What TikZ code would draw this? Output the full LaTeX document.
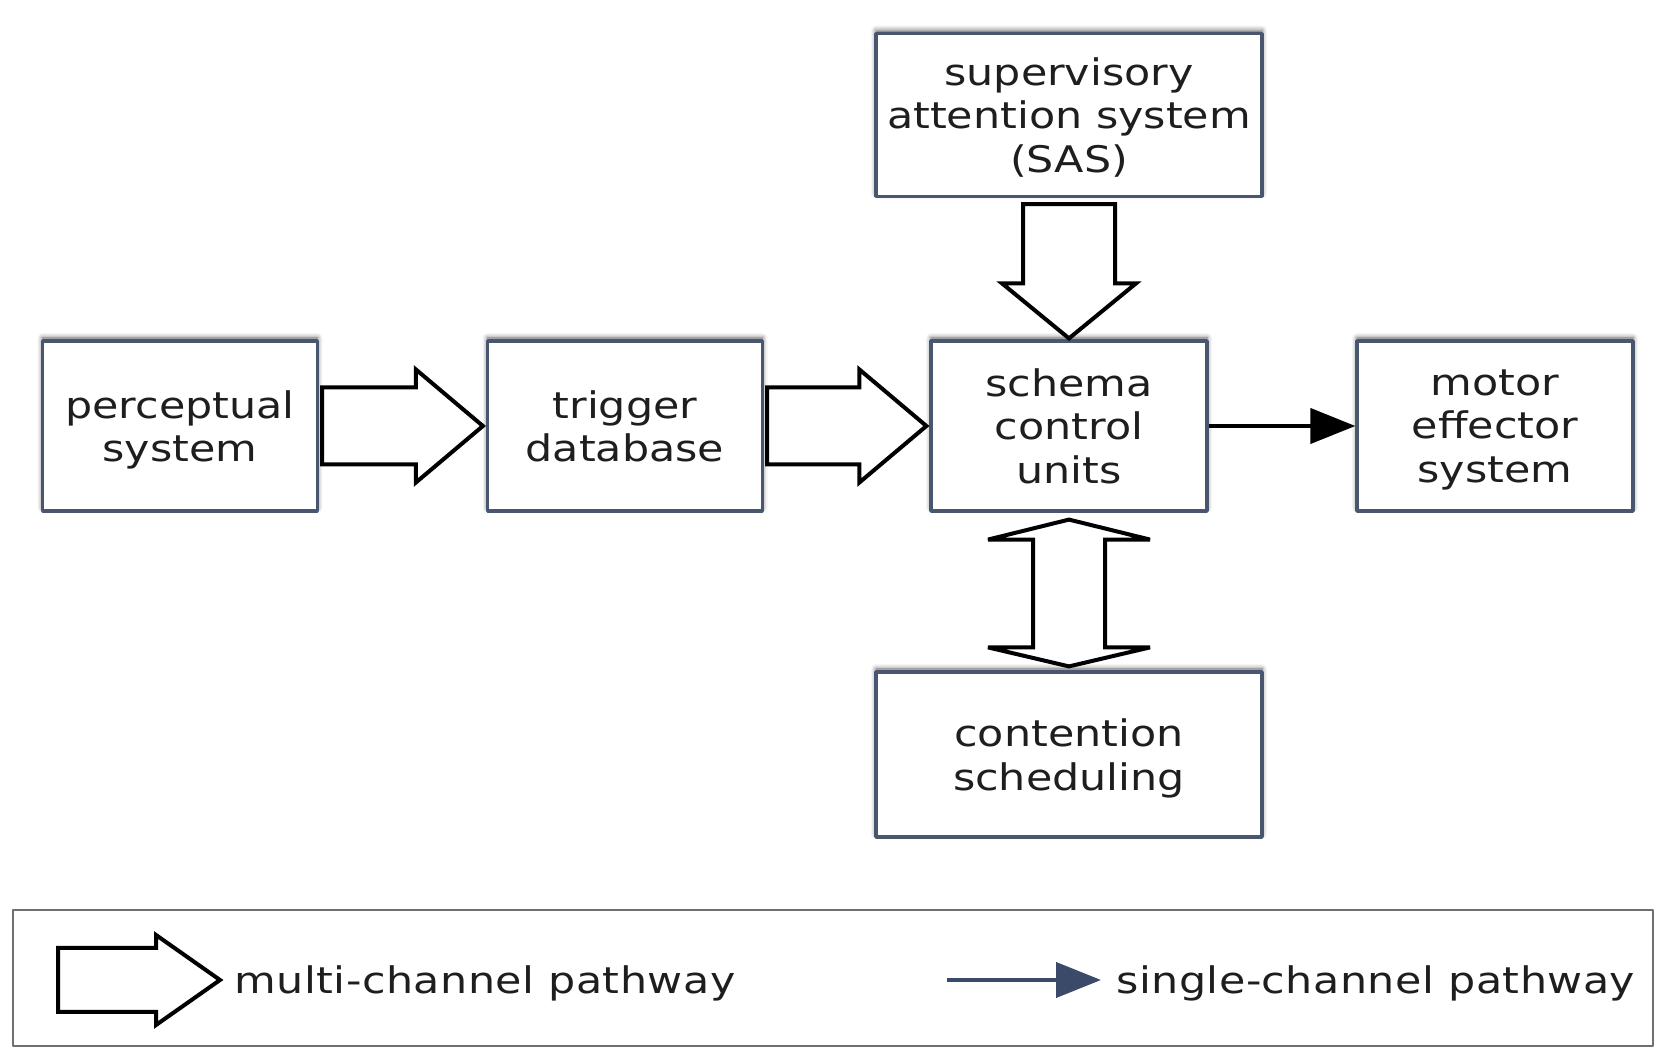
\documentclass[tikz,border=0pt]{standalone}
\usepackage{fontspec}
\setmainfont{DejaVu Sans}[FakeStretch=1.17]
\newfontfamily\legendfont{DejaVu Sans}[FakeStretch=1.17,LetterSpace=1.3]
\usetikzlibrary{arrows.meta,calc,shadows.blur}
\definecolor{boxblue}{RGB}{72,86,112}
\definecolor{textgray}{RGB}{30,30,30}
\definecolor{legendblue}{RGB}{59,74,104}
\definecolor{framegray}{RGB}{112,112,112}

\begin{document}
\begin{tikzpicture}[>=latex,line join=bevel,
  font=\fontsize{18.3bp}{21.75bp}\selectfont,
  box/.style={draw=boxblue,line width=1.6bp,fill=white,inner sep=0bp,align=center,text=textgray,
    minimum width=137.5bp,minimum height=85bp,text depth=-1.6bp,
    blur shadow={shadow xshift=0bp,shadow yshift=1.5bp,shadow blur radius=2.5bp,shadow opacity=65}},
  multi/.style={draw=black,line width=2bp,fill=white,line join=miter,miter limit=3},
  single/.style={-{Triangle[length=22.5bp,width=17.5bp]},line width=2bp},
  legendtext/.style={anchor=base west,inner sep=0bp,text=textgray,font=\legendfont\fontsize{18.3bp}{21.75bp}\selectfont},]
\useasboundingbox (0bp,0bp) rectangle (828bp,524bp);
%%
\node (node_perceptual) at (90bp,311bp) [box] {perceptual\\system};
  \node (node_trigger) at (312.5bp,311bp) [box] {trigger\\database};
  \node (node_schema) at (534.5bp,311bp) [box,minimum width=138bp] {schema\\control\\units};
  \node (node_motor) at (747.5bp,311bp) [box,minimum width=138bp] {motor\\effector\\system};
  \node (node_sas) at (534.5bp,466.5bp) [box,minimum width=193bp,minimum height=81.5bp] {supervisory\\attention system\\(SAS)};
  \node (node_contention) at (534.5bp,146.75bp) [box,minimum width=193bp,minimum height=82.5bp] {contention\\scheduling};
%
\draw [multi] ($(node_perceptual.east)+(1.5bp,19.25bp)$) -- ($(node_trigger.west)+(-35bp,19.25bp)$) -- ($(node_trigger.west)+(-35bp,28.25bp)$) -- ($(node_trigger.west)+(-1.5bp,0bp)$) -- ($(node_trigger.west)+(-35bp,-28.25bp)$) -- ($(node_trigger.west)+(-35bp,-19.25bp)$) -- ($(node_perceptual.east)+(1.5bp,-19.25bp)$) -- cycle;
  \draw [multi] ($(node_trigger.east)+(1.5bp,19.25bp)$) -- ($(node_schema.west)+(-35bp,19.25bp)$) -- ($(node_schema.west)+(-35bp,28.25bp)$) -- ($(node_schema.west)+(-1.5bp,0bp)$) -- ($(node_schema.west)+(-35bp,-28.25bp)$) -- ($(node_schema.west)+(-35bp,-19.25bp)$) -- ($(node_trigger.east)+(1.5bp,-19.25bp)$) -- cycle;
  \draw [multi] ($(node_sas.south)+(-23bp,-3bp)$) -- ($(node_schema.north)+(-23bp,28bp)$) -- ($(node_schema.north)+(-33.5bp,28bp)$) -- ($(node_schema.north)+(0bp,0.5bp)$) -- ($(node_schema.north)+(33.5bp,28bp)$) -- ($(node_schema.north)+(23bp,28bp)$) -- ($(node_sas.south)+(23bp,-3bp)$) -- cycle;
  \draw [multi] ($(node_schema.south)+(0bp,-3.5bp)$) -- ($(node_schema.south)+(40.5bp,-13.5bp)$) -- ($(node_schema.south)+(18bp,-13.5bp)$) -- ($(node_contention.north)+(18bp,11.5bp)$) -- ($(node_contention.north)+(40.5bp,11.5bp)$) -- ($(node_contention.north)+(0bp,2bp)$) -- ($(node_contention.north)+(-40.5bp,11.5bp)$) -- ($(node_contention.north)+(-18bp,11.5bp)$) -- ($(node_schema.south)+(-18bp,-13.5bp)$) -- ($(node_schema.south)+(-40.5bp,-13.5bp)$) -- cycle;
  \draw [single,black] (node_schema) -- (node_motor);
%% legend
\draw [framegray,line width=1bp] (6.5bp,69bp) rectangle (826.5bp,1bp);
  \coordinate (legend_multi_tail) at (29bp,34bp);
  \node (legend_multi) at (117bp,27.5bp) [legendtext] {multi-channel pathway};
  \coordinate (legend_single_tail) at (473.5bp,34bp);
  \node (legend_single) at (558bp,27.5bp) [legendtext] {single-channel pathway};
  \draw [multi] ($(legend_multi_tail)+(0bp,16bp)$) -- ($(legend_multi_tail)+(49bp,16bp)$) -- ($(legend_multi_tail)+(49bp,22.5bp)$) -- ($(legend_multi_tail -| legend_multi.west)+(-7bp,0bp)$) -- ($(legend_multi_tail)+(49bp,-22.5bp)$) -- ($(legend_multi_tail)+(49bp,-16bp)$) -- ($(legend_multi_tail)+(0bp,-16bp)$) -- cycle;
  \draw [single,legendblue] (legend_single_tail) -- ($(legend_single_tail -| legend_single.west)+(-7.5bp,0bp)$);
%
\end{tikzpicture}
\end{document}
